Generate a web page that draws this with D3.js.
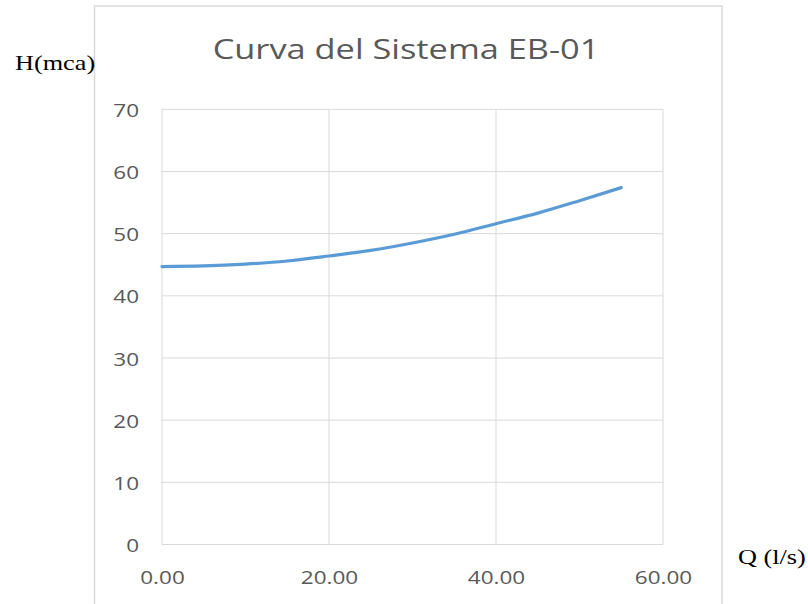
<!DOCTYPE html>
<html>
<head>
<meta charset="utf-8">
<script src="https://cdn.jsdelivr.net/npm/d3@7"></script>
<style>
  html, body { margin: 0; padding: 0; background: #ffffff; }
  svg { display: block; }
</style>
</head>
<body>
<svg id="chart" width="808" height="604"></svg>
<script>
// System curve EB-01: head H (mca) against flow Q (l/s)
const flowQ = [0, 5, 10, 15, 20, 25, 30, 35, 40, 45, 50, 55];
const headH = [44.7, 44.8, 45.1, 45.6, 46.4, 47.3, 48.5, 49.9, 51.6, 53.3, 55.3, 57.4];
const xTicks = [0, 20, 40, 60];
const yTicks = [0, 10, 20, 30, 40, 50, 60, 70];
const titleText = "Curva del Sistema EB-01";
const yLabelText = "H(mca)";
const xLabelText = "Q (l/s)";

const svg = d3.select("#chart");
const SX = 1.25; // horizontal stretch of the lettering
const grid = "#d9d9d9";
const ink = "#595959";
const sans = "'Open Sans', sans-serif";
const serif = "'Liberation Serif', 'Times New Roman', serif";

const plot = { left: 162, right: 663, top: 109.3, bottom: 544.5 };

const x = d3.scaleLinear().domain([0, 60]).range([plot.left, plot.right]);
const y = d3.scaleLinear().domain([0, 70]).range([plot.bottom, plot.top]);

// chart frame
svg.append("rect")
  .attr("x", 94.5).attr("y", 6)
  .attr("width", 627.5).attr("height", 640)
  .attr("fill", "#ffffff")
  .attr("stroke", grid).attr("stroke-width", 1.5);

function stretchedText(sel, px, py) {
  return sel.attr("transform", `translate(${px},${py}) scale(${SX},1)`);
}

// gridlines
const g = svg.append("g");
g.selectAll("line.h").data(yTicks).join("line")
  .attr("x1", plot.left).attr("x2", plot.right)
  .attr("y1", d => y(d)).attr("y2", d => y(d))
  .attr("stroke", grid).attr("stroke-width", 1);
g.selectAll("line.v").data(xTicks).join("line")
  .attr("y1", plot.top).attr("y2", plot.bottom)
  .attr("x1", d => x(d)).attr("x2", d => x(d))
  .attr("stroke", grid).attr("stroke-width", 1);

// axes (labels only; lines come from the grid)
const yAxis = svg.append("g")
  .attr("transform", `translate(${plot.left},0)`)
  .call(d3.axisLeft(y).tickValues(yTicks).tickSize(0).tickPadding(0).tickFormat(d3.format("d")));
yAxis.select(".domain").remove();
yAxis.selectAll(".tick text").each(function(d) {
  d3.select(this)
    .attr("x", null).attr("dy", null)
    .attr("text-anchor", "end")
    .attr("dominant-baseline", "central")
    .attr("fill", ink)
    .style("font-family", sans).style("font-size", "18px");
  stretchedText(d3.select(this), -23, 0);
});

const xAxis = svg.append("g")
  .attr("transform", `translate(0,${plot.bottom})`)
  .call(d3.axisBottom(x).tickValues(xTicks).tickSize(0).tickPadding(0).tickFormat(d3.format(".2f")));
xAxis.select(".domain").remove();
xAxis.selectAll(".tick text").each(function() {
  d3.select(this)
    .attr("y", null).attr("dy", null)
    .attr("text-anchor", "middle")
    .attr("dominant-baseline", "central")
    .attr("fill", ink)
    .style("font-family", sans).style("font-size", "18px");
  stretchedText(d3.select(this), 0, 32);
});

// curve
const line = d3.line()
  .x((d, i) => x(flowQ[i]))
  .y(d => y(d))
  .curve(d3.curveMonotoneX);
svg.append("path")
  .datum(headH)
  .attr("d", line)
  .attr("fill", "none")
  .attr("stroke", "#5b9bd5")
  .attr("stroke-width", 3.2)
  .attr("stroke-linecap", "round");

// title
stretchedText(svg.append("text"), 406, 48)
  .attr("text-anchor", "middle")
  .attr("dominant-baseline", "central")
  .attr("fill", ink)
  .style("font-family", sans).style("font-size", "27.5px")
  .text(titleText);

// axis titles
stretchedText(svg.append("text"), 15, 63)
  .attr("dominant-baseline", "central")
  .attr("fill", "#000000")
  .style("font-family", serif).style("font-size", "21px")
  .text(yLabelText);
stretchedText(svg.append("text"), 738, 557)
  .attr("dominant-baseline", "central")
  .attr("fill", "#000000")
  .style("font-family", serif).style("font-size", "21px")
  .text(xLabelText);
</script>
</body>
</html>
